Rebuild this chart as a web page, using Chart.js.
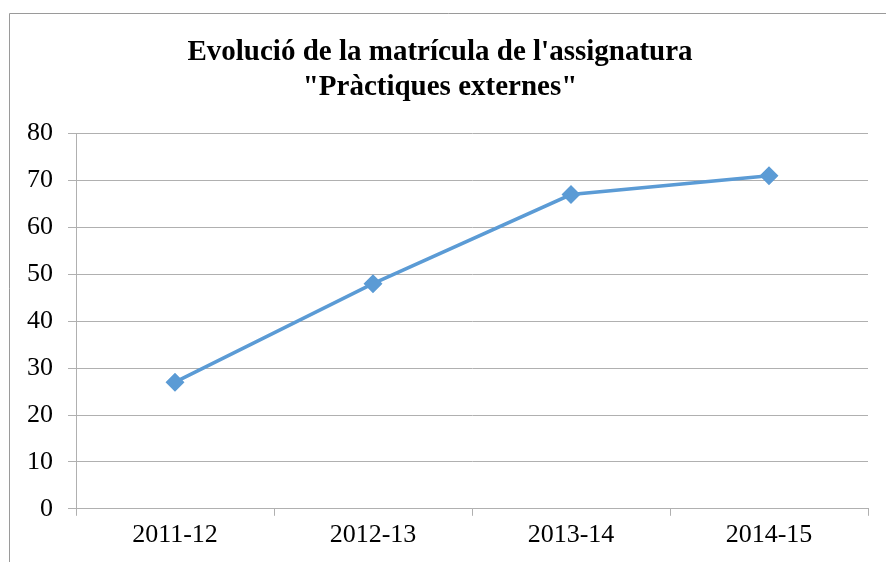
<!DOCTYPE html>
<html lang="ca">
<head>
  <meta charset="UTF-8">
  <title>Evolució de la matrícula</title>
  <style>
    html, body { margin: 0; padding: 0; background: #fff; }
    #wrap { position: relative; width: 886px; height: 562px; }
  </style>
  <script src="https://cdn.jsdelivr.net/npm/chart.js"></script>
</head>
<body>
  <div id="wrap"><canvas id="myChart" width="886" height="562"></canvas></div>
  <script>
    const cursos = ['2011-12', '2012-13', '2013-14', '2014-15'];
    const matricula = [27, 48, 67, 71];
    const titol = ['Evolució de la matrícula de l\'assignatura', '"Pràctiques externes"'];

    // marc gris del gràfic (surt fora per la dreta i per baix)
    const frame = {
      id: 'frame',
      beforeDraw(chart) {
        const c = chart.ctx;
        c.save();
        c.strokeStyle = '#9a9a9a';
        c.lineWidth = 1;
        c.beginPath();
        c.moveTo(9.5, 570);
        c.lineTo(9.5, 13.5);
        c.lineTo(890, 13.5);
        c.stroke();
        c.restore();
      }
    };

    const ctx = document.getElementById('myChart').getContext('2d');
    new Chart(ctx, {
      type: 'line',
      data: {
        labels: cursos,
        datasets: [{
          data: matricula,
          borderColor: '#5b9bd5',
          backgroundColor: '#5b9bd5',
          borderWidth: 3.5,
          pointStyle: 'rectRot',
          pointRadius: 7,
          pointHoverRadius: 7,
          tension: 0,
          fill: false
        }]
      },
      options: {
        responsive: false,
        animation: false,
        layout: { padding: { left: 12, right: 18, top: 23, bottom: 7 } },
        plugins: {
          legend: { display: false },
          tooltip: { enabled: false },
          title: {
            display: true,
            text: titol,
            color: '#000',
            font: { family: 'Liberation Serif', size: 29, weight: 'bold', lineHeight: 1.2 },
            padding: { top: 12, bottom: 29 }
          }
        },
        scales: {
          x: {
            offset: true,
            grid: { offset: true, drawOnChartArea: false, drawTicks: true, tickLength: 7, color: '#b0b0b0' },
            border: { color: '#b0b0b0' },
            ticks: { color: '#000', font: { family: 'Liberation Serif', size: 26 }, padding: 4 }
          },
          y: {
            min: 0,
            max: 80,
            ticks: { stepSize: 10, color: '#000', font: { family: 'Liberation Serif', size: 26 }, padding: 15 },
            grid: { color: '#b0b0b0', tickLength: 8 },
            border: { color: '#b0b0b0' }
          }
        }
      },
      plugins: [frame]
    });
  </script>
</body>
</html>
